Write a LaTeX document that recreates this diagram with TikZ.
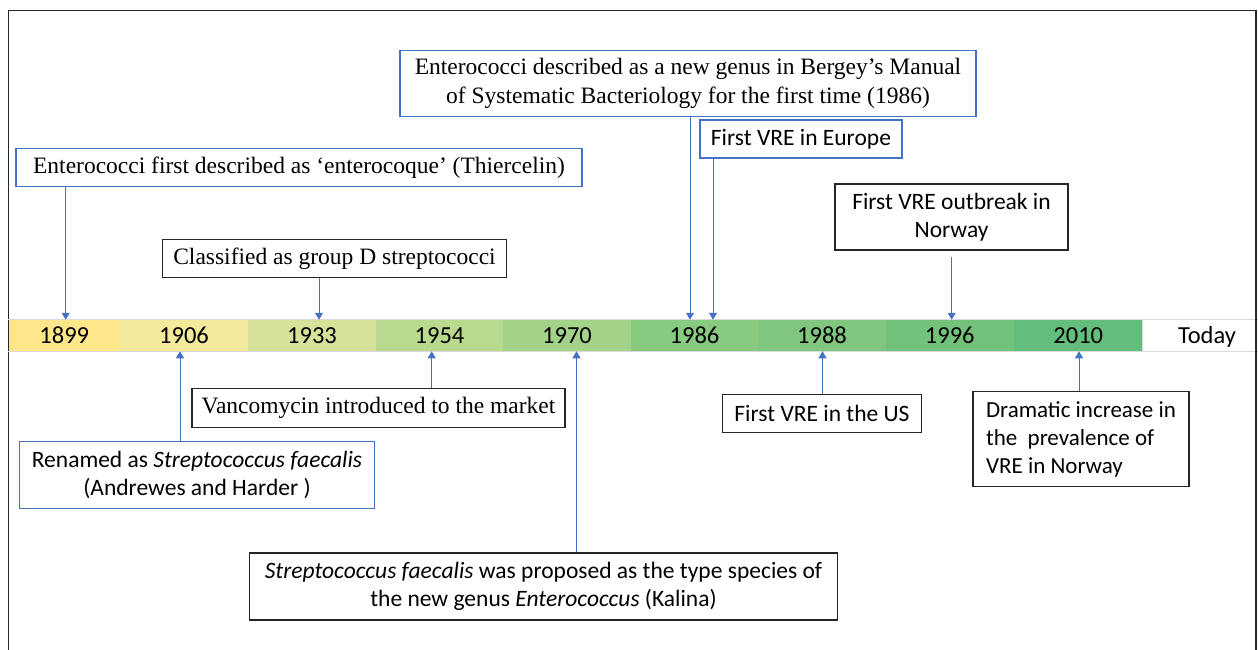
\documentclass[tikz,border=0pt]{standalone}
\usepackage{fontspec}
\setmainfont{Liberation Serif}
\newfontfamily\calib{Carlito}
\usetikzlibrary{arrows.meta}

\definecolor{lineblue}{HTML}{4472C4}
\definecolor{edgegray}{HTML}{D9D9D9}
\definecolor{frameblack}{HTML}{262626}
\definecolor{yA}{HTML}{FEE68A}
\definecolor{yB}{HTML}{F4EA9C}
\definecolor{yC}{HTML}{D6E29A}
\definecolor{yD}{HTML}{B8D98E}
\definecolor{yE}{HTML}{A2D389}
\definecolor{yF}{HTML}{88CA80}
\definecolor{yG}{HTML}{80C67E}
\definecolor{yH}{HTML}{73C27A}
\definecolor{yI}{HTML}{63BE7B}

\tikzset{
  cell/.style={minimum height=31.5pt, inner sep=0pt, text height=16pt, text depth=1pt,
    font=\calib\fontsize{24.5}{28}\selectfont, text=black},
  bluebox/.style={draw=lineblue, line width=1.4pt, fill=white, inner sep=0pt, align=center},
  darkbox/.style={draw=frameblack, line width=1.4pt, fill=white, inner sep=0pt, align=center},
  serif/.style={font=\fontsize{23.5}{29}\selectfont},
  sans/.style={font=\calib\fontsize{23.5}{28}\selectfont},
  arr/.style={draw=lineblue, line width=1pt, -{Triangle[length=7pt,width=8pt]}},
}

\begin{document}
\begin{tikzpicture}[x=1pt, y=-1pt]
\useasboundingbox (0,0) rectangle (1258,650);

% outer frame (open at the bottom)
\draw[frameblack, line width=1.3pt] (8.5,655) -- (8.5,10.5) -- (1256,10.5) -- (1256,655);

% timeline bar
\node[cell, fill=yA, minimum width=111.5pt] (c1899) at (64.25,335.5) {1899};
\node[cell, fill=yB, minimum width=128pt] (c1906) at (184,335.5) {1906};
\node[cell, fill=yC, minimum width=128pt] (c1933) at (312,335.5) {1933};
\node[cell, fill=yD, minimum width=127pt] (c1954) at (439.5,335.5) {1954};
\node[cell, fill=yE, minimum width=128pt] (c1970) at (567,335.5) {1970};
\node[cell, fill=yF, minimum width=127pt] (c1986) at (694.5,335.5) {1986};
\node[cell, fill=yG, minimum width=128pt] (c1988) at (822,335.5) {1988};
\node[cell, fill=yH, minimum width=127.5pt] (c1996) at (949.75,335.5) {1996};
\node[cell, fill=yI, minimum width=129.5pt] (c2010) at (1078.25,335.5) {2010};
\node[cell, fill=white, minimum width=128pt] (ctoday) at (1207,335.5) {Today};
\draw[edgegray, line width=1pt] (c1899.north west) -- (ctoday.north east);
\draw[edgegray, line width=1pt] (c1899.south west) -- (ctoday.south east);
\draw[edgegray, line width=1pt] (ctoday.north west) -- (ctoday.south west);
% keep the frame's right edge above the bar's end
\draw[frameblack, line width=1.3pt] (1256,300) -- (1256,370);

% arrow positions on the bar
\coordinate (t1899) at (65.7,319.75);
\coordinate (t1933) at (319,319.75);
\coordinate (t1986a) at (690,319.75);
\coordinate (t1986b) at (713,319.75);
\coordinate (t1996) at (951.7,319.75);
\coordinate (u1906) at (180,351.25);
\coordinate (u1954) at (431.7,351.25);
\coordinate (u1970) at (576.5,351.25);
\coordinate (u1988) at (822.5,351.25);
\coordinate (u2010) at (1079,351.25);

% events above the bar
\node[bluebox, serif, minimum width=566pt, minimum height=37.5pt] (thiercelin) at (299,167.5)
  {Enterococci first described as ‘enterocoque’ (Thiercelin)};
\node[bluebox, serif, minimum width=576pt, minimum height=66pt] (bergey) at (688,83.5)
  {Enterococci described as a new genus in Bergey’s Manual\\of Systematic Bacteriology for the first time (1986)};
\node[bluebox, sans, minimum width=202pt, minimum height=38pt] (europe) at (801,139)
  {First VRE in Europe};
\node[darkbox, serif, minimum width=344pt, minimum height=38.5pt] (groupd) at (334.5,258.5)
  {Classified as group D streptococci};
\node[darkbox, sans, minimum width=233pt, minimum height=66pt] (outbreak) at (951.5,217)
  {First VRE outbreak in\\Norway};

% events below the bar
\node[darkbox, serif, minimum width=373pt, minimum height=38.5pt] (vanco) at (378.5,408)
  {Vancomycin introduced to the market};
\node[bluebox, sans, minimum width=355pt, minimum height=66.5pt] (renamed) at (197,475)
  {Renamed as \textit{Streptococcus faecalis}\\(Andrewes and Harder )};
\node[darkbox, sans, minimum width=588pt, minimum height=67pt] (kalina) at (543.5,586.5)
  {\textit{Streptococcus faecalis} was proposed as the type species of\\the new genus \textit{Enterococcus} (Kalina)};
\node[darkbox, sans, minimum width=199pt, minimum height=38.5pt] (usa) at (822,413.5)
  {First VRE in the US};
\node[darkbox, font=\calib\fontsize{23}{28}\selectfont, align=left, minimum width=216pt, minimum height=95pt] (dramatic) at (1081,439.25)
  {Dramatic increase in\\the\ \ prevalence of\\VRE in Norway};

% connectors
\draw[arr] (t1899 |- thiercelin.south) -- (t1899);
\draw[arr] (t1986a |- bergey.south) -- (t1986a);
\draw[arr] (t1986b |- europe.south) -- (t1986b);
\draw[arr] (t1933 |- groupd.south) -- (t1933);
\draw[arr] ([yshift=-6pt]t1996 |- outbreak.south) -- (t1996);
\draw[arr] (u1954 |- vanco.north) -- (u1954);
\draw[arr] (u1906 |- renamed.north) -- (u1906);
\draw[arr] (u1970 |- kalina.north) -- (u1970);
\draw[arr] (u1988 |- usa.north) -- (u1988);
\draw[arr] (u2010 |- dramatic.north) -- (u2010);
\end{tikzpicture}
\end{document}
